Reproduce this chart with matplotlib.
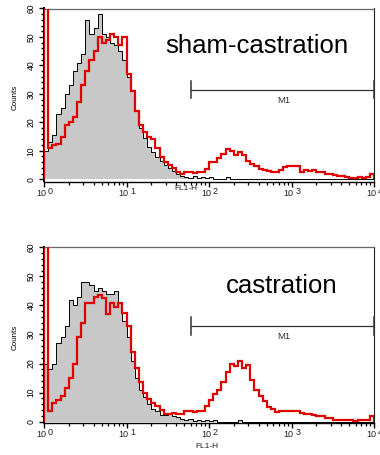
import numpy as np
import matplotlib
matplotlib.use("Agg")
import matplotlib.pyplot as plt
from matplotlib.ticker import MultipleLocator, LogLocator, NullFormatter

plt.rcParams['font.family'] = ['Liberation Sans', 'DejaVu Sans']

# histogram channels: 80 bins of 0.05 decade from 10^0 to 10^4
bin_step = 0.05
n_bins = 80

sham_control = [10, 13, 15.5, 23, 25, 30, 33, 38, 41, 44,
                56, 51, 53, 58, 51, 50, 48, 47, 45, 42,
                36, 31, 24, 18, 14.5, 11.5, 9.5, 7.8, 6.4, 5,
                4, 2.8, 2, 1.2, 0.8, 0.6, 1, 0.5, 0.8, 0.3,
                0.8, 0.2, 0, 0, 0.7, 0, 0, 0, 0, 0,
                0, 0, 0, 0, 0, 0, 0, 0, 0, 0,
                0, 0, 0, 0, 0, 0, 0, 0, 0, 0,
                0, 0, 0, 0, 0, 0, 0, 0, 0, 0]

sham_stained = [70, 11, 12, 12.5, 14.7, 19, 20, 22, 27, 33,
                38, 42, 45, 50, 48, 49, 51, 50, 47, 50,
                37, 31, 24, 19, 16.5, 15, 14, 11, 7.7, 6.2,
                5, 3.8, 2.5, 1.8, 2.4, 2.6, 2.3, 2.6, 2.5, 3.5,
                6, 6.2, 7.5, 9, 10.5, 9.8, 8.5, 9.4, 8.6, 6.4,
                5.2, 4.5, 3.6, 3.2, 2.9, 2.6, 2.4, 3.2, 4.2, 4.7,
                4.7, 4.5, 2.6, 3.4, 2.8, 3.2, 2.6, 2.4, 2, 1.9,
                1.5, 1.2, 1.1, 0.7, 0.6, 0.6, 0.7, 0.6, 0.7, 2]

cast_control = [20, 18, 20, 27, 29, 33, 42, 40, 43, 48,
                48, 47, 45, 46, 45, 44, 44, 45, 41, 34.5,
                29, 21, 15, 11, 8.5, 6, 4.5, 3.5, 2.2, 2.2,
                2.5, 1.8, 1.5, 0.8, 0.4, 0.8, 0.3, 0.5, 0.3, 0.6,
                0.3, 0.4, 0, 0, 0, 0, 0, 0.7, 0, 0,
                0, 0, 0, 0, 0, 0, 0, 0, 0, 0,
                0, 0, 0, 0, 0, 0, 0, 0, 0, 0,
                0, 0, 0, 0, 0, 0, 0, 0, 0, 0]

cast_stained = [70, 3.5, 6.5, 7.5, 9, 11.5, 15, 20, 29, 34,
                41, 41, 43, 43.5, 42.5, 37, 41, 39.5, 41, 37.5,
                33, 24, 18.5, 13.5, 10, 7.8, 6.5, 5.3, 4, 2.6,
                2.5, 3, 2.8, 2.5, 3.5, 3.5, 3.2, 3.5, 3.6, 5.5,
                7.5, 9.5, 11, 13.5, 17, 20, 19, 21, 18.5, 19.5,
                14.4, 11, 9, 7, 5.2, 4.2, 3.2, 3.5, 3.5, 3.5,
                3.8, 3.8, 3, 2.8, 2.5, 2.3, 2, 1.8, 1.4, 1.1,
                0.7, 0.6, 0.5, 0.4, 0.5, 0.3, 0.5, 0.4, 0.5, 1.8]

panel_titles = ["sham-castration", "castration"]
y_ticks = [0, 10, 20, 30, 40, 50, 60]
x_decades = [0, 1, 2, 3, 4]
m1_range = [60, 10000]
m1_level = [31.4, 32.9]

edges = 10 ** (np.arange(n_bins + 1) * bin_step)

W, H = 380, 455
fig = plt.figure(figsize=(W / 100, H / 100), dpi=100)

def px_axes(left, top, right, bottom):
    return fig.add_axes([left / W, 1 - bottom / H, (right - left) / W, (bottom - top) / H])

ax_top = px_axes(44, 8.5, 374, 181.5)
ax_bot = px_axes(44, 247.3, 374, 423.4)

panels = [
    (ax_top, sham_control, sham_stained, (-0.8, 60), 0),
    (ax_bot, cast_control, cast_stained, (-0.6, 60), 1),
]

for ax, ctrl, stain, ylim, k in panels:
    ax.set_xscale('log')
    ax.set_xlim(1, 10000)
    ax.set_ylim(*ylim)
    ax.stairs(ctrl, edges, fill=True, color='#c8c8c8', baseline=0, zorder=1)
    ax.stairs(ctrl, edges, color='black', lw=0.7, baseline=None, zorder=2)
    ax.stairs(stain, edges, color='#e00000', lw=1.6, baseline=0, zorder=3)

    # M1 marker
    lvl = m1_level[k]
    ax.plot(m1_range, [lvl, lvl], color='#333333', lw=0.9, zorder=4, clip_on=False)
    for xv in m1_range:
        ax.plot([xv, xv], [lvl - 3.0, lvl + 3.0], color='#333333', lw=1.1, zorder=4, clip_on=False)
    ax.text(np.sqrt(m1_range[0] * m1_range[1]) * 1.05, lvl - 2.2, "M1", ha='center', va='top',
            fontsize=6.8, color='#333333')

    # y axis
    ax.set_yticks(y_ticks)
    ax.set_yticklabels([str(v) for v in y_ticks], rotation=90, va='center', fontsize=6.2)
    ax.yaxis.set_minor_locator(MultipleLocator(2))
    ax.tick_params(axis='y', which='major', direction='out', length=3.5, width=1.0, pad=2.5)
    ax.tick_params(axis='y', which='minor', direction='out', length=2.2, width=1.0)

    # x axis
    ax.set_xticks([10 ** d for d in x_decades])
    ax.set_xticklabels([''] * len(x_decades))
    ax.xaxis.set_minor_locator(LogLocator(base=10, subs=np.arange(2, 10), numticks=50))
    ax.xaxis.set_minor_formatter(NullFormatter())
    ax.tick_params(axis='x', which='major', direction='out', length=3.5, width=1.0)
    ax.tick_params(axis='x', which='minor', direction='out', length=1.8, width=0.9)
    for d in x_decades:
        ax.annotate("10", xy=(10 ** d, 0), xycoords=('data', 'axes fraction'),
                    xytext=(2, -7), textcoords='offset pixels', ha='right', va='top',
                    fontsize=6.5, color='#222222')
        ax.annotate(str(d), xy=(10 ** d, 0), xycoords=('data', 'axes fraction'),
                    xytext=(4, -5), textcoords='offset pixels', ha='left', va='top',
                    fontsize=6.5, color='#222222')

    for side in ['left', 'bottom']:
        ax.spines[side].set_color('black')
    ax.spines['left'].set_linewidth(1.4)
    ax.spines['bottom'].set_linewidth(1.0)
    ax.spines['top'].set_color('#666666')
    ax.spines['top'].set_linewidth(0.9)
    ax.spines['right'].set_color('#222222')
    ax.spines['right'].set_linewidth(0.8)

# axis labels
fig.text(15 / W, 1 - 97 / H, "Counts", rotation=90, ha='center', va='center', fontsize=5.8)
fig.text(15 / W, 1 - 337 / H, "Counts", rotation=90, ha='center', va='center', fontsize=5.8)
fig.text(186 / W, 1 - 188.5 / H, "FL1-H", ha='center', va='center', fontsize=6, color='#222222')
fig.text(207 / W, 1 - 446.5 / H, "FL1-H", ha='center', va='center', fontsize=6, color='#222222')

# panel titles
fig.text(256.5 / W, 1 - 46 / H, panel_titles[0], ha='center', va='center', fontsize=18.5)
fig.text(281.5 / W, 1 - 286 / H, panel_titles[1], ha='center', va='center', fontsize=18.5)

fig.savefig("out.png", dpi=100)
